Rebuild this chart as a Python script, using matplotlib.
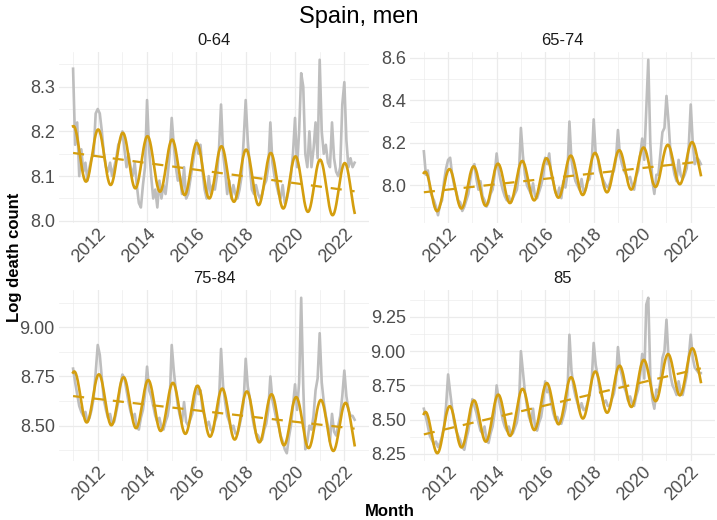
import numpy as np
import matplotlib
matplotlib.use("Agg")
import matplotlib.pyplot as plt

plt.rcParams['font.family'] = ['Liberation Sans', 'DejaVu Sans']

# monthly log death counts, Jan 2011 - Jun 2022
age_groups = ["0-64", "65-74", "75-84", "85"]

deaths_0_64 = [
    8.34, 8.17, 8.22, 8.10, 8.16, 8.11, 8.13, 8.09, 8.12, 8.14, 8.15, 8.24,
    8.25, 8.24, 8.20, 8.15, 8.12, 8.11, 8.13, 8.10, 8.12, 8.14, 8.17, 8.18,
    8.20, 8.16, 8.12, 8.15, 8.12, 8.10, 8.13, 8.08, 8.04, 8.03, 8.08, 8.12,
    8.27, 8.16, 8.10, 8.05, 8.07, 8.03, 8.09, 8.05, 8.08, 8.06, 8.10, 8.15,
    8.23, 8.17, 8.12, 8.09, 8.10, 8.06, 8.12, 8.05, 8.06, 8.09, 8.12, 8.15,
    8.18, 8.15, 8.17, 8.11, 8.07, 8.05, 8.10, 8.06, 8.08, 8.07, 8.10, 8.16,
    8.26, 8.15, 8.11, 8.06, 8.09, 8.05, 8.08, 8.06, 8.05, 8.07, 8.10, 8.18,
    8.27, 8.18, 8.12, 8.07, 8.06, 8.08, 8.06, 8.05, 8.06, 8.08, 8.09, 8.12,
    8.22, 8.13, 8.10, 8.08, 8.06, 8.05, 8.08, 8.04, 8.05, 8.07, 8.10, 8.15,
    8.23, 8.12, 8.20, 8.33, 8.30, 8.15, 8.12, 8.20, 8.12, 8.16, 8.22, 8.14,
    8.36, 8.20, 8.15, 8.17, 8.13, 8.12, 8.22, 8.14, 8.11, 8.10, 8.12, 8.26,
    8.31, 8.18, 8.12, 8.14, 8.12, 8.13,
]
deaths_65_74 = [
    8.16, 8.05, 8.07, 7.98, 7.95, 7.93, 7.90, 7.86, 7.91, 7.93, 8.02, 8.08,
    8.12, 8.13, 8.05, 8.00, 7.97, 7.93, 7.92, 7.88, 7.90, 7.93, 7.96, 8.03,
    8.08, 8.10, 8.03, 7.98, 8.02, 7.95, 7.93, 7.90, 7.92, 7.96, 7.98, 8.05,
    8.15, 8.07, 8.02, 7.98, 7.95, 7.93, 7.95, 7.92, 7.94, 7.96, 7.98, 8.05,
    8.27, 8.14, 8.05, 8.00, 7.98, 7.96, 8.01, 7.95, 7.94, 7.97, 8.00, 8.04,
    8.13, 8.10, 8.15, 8.05, 8.02, 7.97, 7.95, 7.99, 7.94, 8.02, 7.99, 8.05,
    8.30, 8.12, 8.06, 8.02, 8.00, 7.98, 8.03, 7.97, 7.98, 8.02, 8.03, 8.10,
    8.31, 8.15, 8.13, 8.07, 8.04, 8.02, 8.00, 7.99, 8.01, 8.05, 8.07, 8.12,
    8.26, 8.14, 8.10, 8.07, 8.05, 8.03, 8.04, 8.00, 7.98, 8.04, 8.07, 8.14,
    8.22, 8.12, 8.35, 8.59, 8.20, 8.02, 7.96, 8.05, 8.05, 8.15, 8.25, 8.27,
    8.42, 8.30, 8.15, 8.10, 8.05, 8.02, 8.12, 8.05, 8.03, 8.05, 8.08, 8.18,
    8.38, 8.20, 8.10, 8.13, 8.12, 8.10,
]
deaths_75_84 = [
    8.79, 8.72, 8.66, 8.60, 8.57, 8.55, 8.57, 8.52, 8.54, 8.58, 8.64, 8.77,
    8.91, 8.86, 8.74, 8.63, 8.58, 8.54, 8.56, 8.51, 8.52, 8.57, 8.62, 8.70,
    8.76, 8.74, 8.68, 8.62, 8.57, 8.54, 8.56, 8.49, 8.48, 8.54, 8.58, 8.66,
    8.80, 8.68, 8.65, 8.60, 8.55, 8.52, 8.54, 8.49, 8.48, 8.52, 8.55, 8.62,
    8.91, 8.78, 8.68, 8.60, 8.55, 8.52, 8.62, 8.52, 8.50, 8.53, 8.56, 8.62,
    8.70, 8.66, 8.68, 8.58, 8.55, 8.50, 8.52, 8.48, 8.47, 8.52, 8.55, 8.62,
    8.89, 8.70, 8.62, 8.55, 8.52, 8.48, 8.50, 8.46, 8.46, 8.50, 8.55, 8.62,
    8.84, 8.70, 8.64, 8.56, 8.50, 8.46, 8.45, 8.42, 8.43, 8.48, 8.51, 8.58,
    8.75, 8.63, 8.58, 8.53, 8.50, 8.45, 8.42, 8.38, 8.36, 8.44, 8.50, 8.60,
    8.71, 8.58, 8.72, 9.15, 8.70, 8.38, 8.42, 8.50, 8.48, 8.55, 8.68, 8.74,
    8.97, 8.72, 8.62, 8.55, 8.50, 8.42, 8.56, 8.47, 8.45, 8.50, 8.55, 8.65,
    8.78, 8.65, 8.58, 8.55, 8.55, 8.53,
]
deaths_85 = [
    8.58, 8.52, 8.45, 8.38, 8.35, 8.32, 8.34, 8.30, 8.33, 8.38, 8.45, 8.60,
    8.83, 8.70, 8.58, 8.48, 8.42, 8.38, 8.35, 8.30, 8.28, 8.36, 8.42, 8.52,
    8.65, 8.60, 8.55, 8.48, 8.42, 8.40, 8.45, 8.35, 8.33, 8.40, 8.45, 8.55,
    8.75, 8.65, 8.58, 8.50, 8.45, 8.42, 8.45, 8.40, 8.40, 8.44, 8.48, 8.58,
    9.00, 8.85, 8.70, 8.60, 8.52, 8.48, 8.58, 8.45, 8.42, 8.48, 8.52, 8.62,
    8.78, 8.70, 8.72, 8.62, 8.55, 8.50, 8.52, 8.48, 8.47, 8.52, 8.58, 8.68,
    9.12, 8.86, 8.74, 8.67, 8.62, 8.57, 8.62, 8.57, 8.58, 8.62, 8.68, 8.78,
    9.06, 8.90, 8.82, 8.72, 8.67, 8.62, 8.64, 8.60, 8.60, 8.65, 8.69, 8.78,
    9.03, 8.88, 8.82, 8.74, 8.70, 8.64, 8.67, 8.62, 8.60, 8.67, 8.72, 8.83,
    8.98, 8.80, 9.34, 9.39, 8.82, 8.65, 8.58, 8.72, 8.70, 8.78, 8.95, 9.00,
    9.23, 8.95, 8.82, 8.75, 8.72, 8.68, 8.78, 8.70, 8.68, 8.75, 8.82, 8.95,
    9.12, 8.95, 8.88, 8.86, 8.84, 8.84,
]
series = [deaths_0_64, deaths_65_74, deaths_75_84, deaths_85]

y_ticks = [
    [8.0, 8.1, 8.2, 8.3],
    [8.0, 8.2, 8.4, 8.6],
    [8.50, 8.75, 9.00],
    [8.25, 8.50, 8.75, 9.00, 9.25],
]
y_fmt = ["{:.1f}", "{:.1f}", "{:.2f}", "{:.2f}"]
x_ticks = [2012, 2014, 2016, 2018, 2020, 2022]

start_year = 2011
fit_end = 110  # fit on months before March 2020

grey = "#BEBEBE"
gold = "#D49E0E"
grid_col = "#EBEBEB"
tick_col = "#4D4D4D"

W, H = 717, 520
fig = plt.figure(figsize=(W / 100, H / 100), dpi=100)

# panel boxes in pixels: left, top, right, bottom
boxes = [(59, 52, 369, 223), (410, 52, 715, 223),
         (59, 290, 369, 461), (410, 290, 715, 461)]


def design(tt):
    return np.column_stack([np.ones_like(tt), tt - start_year,
                            np.cos(2 * np.pi * tt), np.sin(2 * np.pi * tt)])


for i, (name, y) in enumerate(zip(age_groups, series)):
    l, t, r, b = boxes[i]
    ax = fig.add_axes([l / W, 1 - b / H, (r - l) / W, (b - t) / H])
    y = np.array(y)
    tm = start_year + np.arange(len(y)) / 12

    # harmonic regression: trend + annual cycle
    coef, *_ = np.linalg.lstsq(design(tm[:fit_end]), y[:fit_end], rcond=None)
    tf = np.linspace(tm[0], tm[-1], 600)
    fit = design(tf) @ coef
    trend = coef[0] + coef[1] * (tf - start_year)

    ax.plot(tm, y, color=grey, lw=1.9, zorder=2)
    ax.plot(tf, trend, color=gold, lw=1.6, ls=(0, (5, 4)), zorder=3)
    ax.plot(tf, fit, color=gold, lw=1.9, zorder=4)

    ax.set_xlim(tm[0] - 0.05 * (tm[-1] - tm[0]), tm[-1] + 0.05 * (tm[-1] - tm[0]))
    lo = min(y.min(), fit.min())
    hi = max(y.max(), fit.max())
    pad = 0.05 * (hi - lo)

    ax.set_xticks(x_ticks)
    ax.set_xticks(np.arange(2011, 2024, 2), minor=True)
    ax.set_xticklabels([str(v) for v in x_ticks], rotation=45, ha="right",
                       va="top", rotation_mode="anchor")
    yt = y_ticks[i]
    ax.set_yticks(yt)
    step = yt[1] - yt[0]
    ax.set_yticks(np.arange(yt[0] - step / 2, yt[-1] + step, step), minor=True)
    ax.set_yticklabels([y_fmt[i].format(v) for v in yt])
    ax.set_ylim(lo - pad, hi + pad)

    ax.grid(which="major", color=grid_col, lw=0.9)
    ax.grid(which="minor", color=grid_col, lw=0.45)
    ax.set_axisbelow(True)
    for s in ax.spines.values():
        s.set_visible(False)
    ax.tick_params(which="both", length=0, labelsize=13, colors=tick_col, pad=3)
    ax.tick_params(axis="x", pad=2)
    ax.set_title(name, fontsize=12, color="#1A1A1A", pad=5)

fig.text(0.5, 1 - 17 / H, "Spain, men", ha="center", va="center", fontsize=17, color="black")
fig.text(15 / W, 1 - 257 / H, "Log death count", rotation=90, ha="center", va="center",
         fontsize=12, fontweight="bold")
fig.text(390 / W, 1 - 512 / H, "Month", ha="center", va="center",
         fontsize=12, fontweight="bold")

fig.savefig("out.png", dpi=100)
